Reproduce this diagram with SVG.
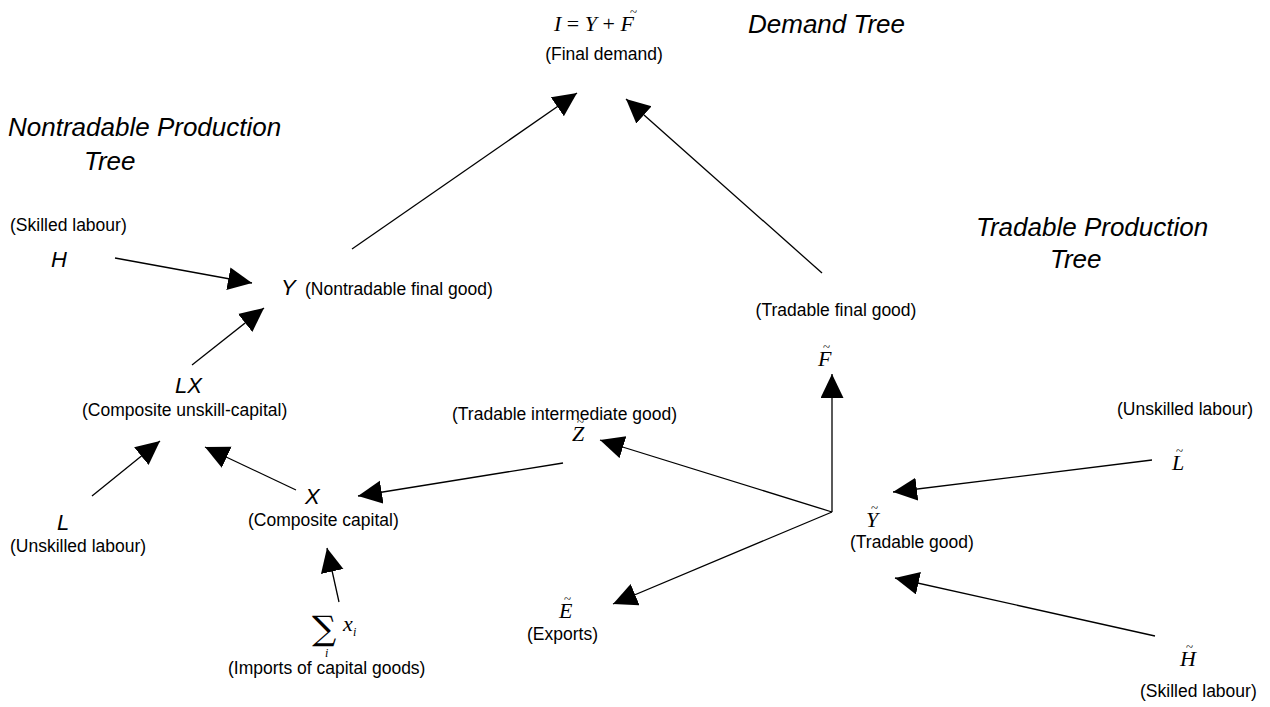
<svg xmlns="http://www.w3.org/2000/svg" width="1270" height="707" viewBox="0 0 1270 707">
<style>
.lbl{font-family:"Liberation Sans",Arial,sans-serif;font-size:17.5px;fill:#000}
.title{font-family:"Liberation Sans",Arial,sans-serif;font-style:italic;font-size:26px;fill:#000}
.var{font-family:"Liberation Sans",Arial,sans-serif;font-style:italic;font-size:22px;fill:#000}
.tv{font-family:"Liberation Serif","Times New Roman",serif;font-style:italic;font-size:22px;fill:#000}
.up{font-style:normal}
.tl{font-family:"Liberation Serif","Times New Roman",serif;font-size:13px;fill:#000}
.edge{stroke:#000;stroke-width:1.3;fill:none;marker-end:url(#ah)}
</style>
<defs>
<marker id="ah" markerUnits="userSpaceOnUse" markerWidth="26" markerHeight="24" refX="24" refY="11.5" orient="auto">
<path d="M0,0 L24,11.5 L0,23 z" fill="#000"/>
</marker>
</defs>
<rect width="1270" height="707" fill="#fff"/>

<g id="titles">
<text class="title" x="8" y="136">Nontradable Production</text>
<text class="title" x="84" y="170">Tree</text>
<text class="title" x="748" y="33">Demand Tree</text>
<text class="title" x="976" y="236">Tradable Production</text>
<text class="title" x="1050" y="268">Tree</text>
</g>

<g id="connectors">
<line class="edge" x1="352" y1="249" x2="577" y2="93"/>
<line class="edge" x1="822" y1="273" x2="626" y2="99"/>
<line class="edge" x1="115" y1="258" x2="252" y2="283"/>
<line class="edge" x1="192" y1="365" x2="264" y2="308"/>
<line class="edge" x1="92" y1="496" x2="160" y2="441"/>
<line class="edge" x1="296" y1="490" x2="205" y2="447"/>
<line class="edge" x1="563" y1="463" x2="358" y2="496"/>
<line class="edge" x1="339" y1="602" x2="327" y2="548"/>
<line class="edge" x1="832" y1="512" x2="600" y2="440"/>
<line class="edge" x1="832" y1="512" x2="832" y2="374"/>
<line class="edge" x1="832" y1="512" x2="613" y2="604"/>
<line class="edge" x1="1152" y1="460" x2="893" y2="492"/>
<line class="edge" x1="1155" y1="636" x2="895" y2="578"/>
</g>

<g id="node-I">
<text class="tv" x="554" y="31">I<tspan class="up"> = </tspan>Y<tspan class="up"> + </tspan>F</text>
<text class="tl" x="630" y="16">~</text>
<text class="lbl" x="604" y="60" text-anchor="middle">(Final demand)</text>
</g>

<g id="node-H">
<text class="lbl" x="10" y="231">(Skilled labour)</text>
<text class="var" x="51" y="267">H</text>
</g>

<g id="node-Y">
<text class="var" x="281" y="295">Y</text>
<text class="lbl" x="305" y="295">(Nontradable final good)</text>
</g>

<g id="node-LX">
<text class="var" x="175" y="393">LX</text>
<text class="lbl" x="82" y="416">(Composite unskill-capital)</text>
</g>

<g id="node-L">
<text class="var" x="57" y="530">L</text>
<text class="lbl" x="10" y="552">(Unskilled labour)</text>
</g>

<g id="node-X">
<text class="var" x="305" y="504">X</text>
<text class="lbl" x="248" y="526">(Composite capital)</text>
</g>

<g id="node-sum">
<text x="312" y="640" style="font-family:'DejaVu Serif',serif;font-size:34px">∑</text>
<text class="tv" x="343" y="631">x</text>
<text class="tv" x="353" y="636" style="font-size:12px">i</text>
<text class="tv" x="325" y="657" style="font-size:12px">i</text>
<text class="lbl" x="228" y="674">(Imports of capital goods)</text>
</g>

<g id="node-Ft">
<text class="lbl" x="836" y="316" text-anchor="middle">(Tradable final good)</text>
<text class="tv" x="818" y="366">F</text>
<text class="tl" x="823" y="351">~</text>
</g>

<g id="node-Zt">
<text class="lbl" x="452" y="420">(Tradable intermediate good)</text>
<text class="tv" x="572" y="441">Z</text>
<text class="tl" x="577" y="426">~</text>
</g>

<g id="node-Yt">
<text class="tv" x="866" y="527">Y</text>
<text class="tl" x="871" y="512">~</text>
<text class="lbl" x="850" y="548">(Tradable good)</text>
</g>

<g id="node-Et">
<text class="tv" x="559" y="618">E</text>
<text class="tl" x="564" y="603">~</text>
<text class="lbl" x="527" y="640">(Exports)</text>
</g>

<g id="node-Lt">
<text class="lbl" x="1117" y="415">(Unskilled labour)</text>
<text class="tv" x="1172" y="470">L</text>
<text class="tl" x="1176" y="455">~</text>
</g>

<g id="node-Ht">
<text class="tv" x="1180" y="666">H</text>
<text class="tl" x="1186" y="651">~</text>
<text class="lbl" x="1140" y="697">(Skilled labour)</text>
</g>
</svg>
